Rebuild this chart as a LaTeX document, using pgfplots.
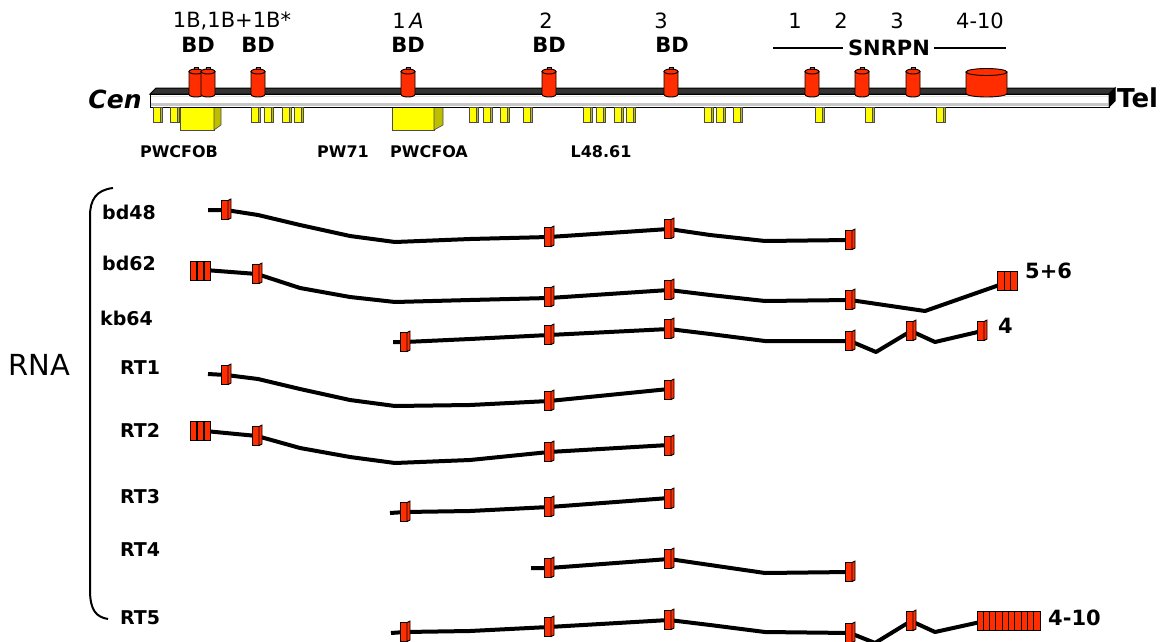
\documentclass[border=0pt]{standalone}
\usepackage{pgfplots}
\pgfplotsset{compat=1.18}
\usepackage{pgfplotstable}
\usepackage{fontspec}
\setmainfont{DejaVu Sans}
\definecolor{exred}{RGB}{255,45,0}
\definecolor{exdark}{RGB}{200,30,0}
\definecolor{yel}{RGB}{255,255,0}
\definecolor{yeldark}{RGB}{190,190,0}

% exon (front face + thin side face)
\pgfdeclareplotmark{exon}{%
  \pgfsetlinewidth{0.9pt}\pgfsetstrokecolor{black}\pgfsetfillcolor{exred}%
  \pgfpathrectangle{\pgfpoint{-5pt}{-9.5pt}}{\pgfpoint{7pt}{19pt}}\pgfusepath{fill,stroke}%
  \pgfpathmoveto{\pgfpoint{2pt}{-9.5pt}}\pgfpathlineto{\pgfpoint{5pt}{-8pt}}%
  \pgfpathlineto{\pgfpoint{5pt}{11pt}}\pgfpathlineto{\pgfpoint{2pt}{9.5pt}}\pgfpathclose
  \pgfusepath{fill,stroke}%
}
% narrow exon
\pgfdeclareplotmark{nexon}{%
  \pgfsetlinewidth{0.9pt}\pgfsetstrokecolor{black}\pgfsetfillcolor{exred}%
  \pgfpathrectangle{\pgfpoint{-3.2pt}{-9.5pt}}{\pgfpoint{6.4pt}{19pt}}\pgfusepath{fill,stroke}%
}
% cylinder on the chromosome
\pgfdeclareplotmark{cyl}{%
  \pgfsetlinewidth{0.9pt}\pgfsetstrokecolor{black}\pgfsetfillcolor{exred}%
  \pgfpathmoveto{\pgfpoint{-7pt}{11pt}}\pgfpathlineto{\pgfpoint{-7pt}{-12pt}}%
  \pgfpatharc{180}{360}{7pt and 2.5pt}\pgfpathlineto{\pgfpoint{7pt}{11pt}}\pgfpathclose
  \pgfusepath{fill,stroke}%
  \pgfpathellipse{\pgfpoint{0pt}{11pt}}{\pgfpoint{7pt}{0pt}}{\pgfpoint{0pt}{2.5pt}}\pgfusepath{fill,stroke}%
  \pgfpathrectangle{\pgfpoint{-2pt}{13pt}}{\pgfpoint{4pt}{1.8pt}}\pgfusepath{fill,stroke}%
}
\pgfdeclareplotmark{bigcyl}{%
  \pgfsetlinewidth{0.9pt}\pgfsetstrokecolor{black}\pgfsetfillcolor{exred}%
  \pgfpathmoveto{\pgfpoint{-20.5pt}{10.5pt}}\pgfpathlineto{\pgfpoint{-20.5pt}{-11pt}}%
  \pgfpatharc{180}{360}{20.5pt and 3.5pt}\pgfpathlineto{\pgfpoint{20.5pt}{10.5pt}}\pgfpathclose
  \pgfusepath{fill,stroke}%
  \pgfpathellipse{\pgfpoint{0pt}{10.5pt}}{\pgfpoint{20.5pt}{0pt}}{\pgfpoint{0pt}{3.5pt}}\pgfusepath{fill,stroke}%
}
% small yellow box
\pgfdeclareplotmark{ybox}{%
  \pgfsetlinewidth{0.6pt}\pgfsetstrokecolor{black!70}\pgfsetfillcolor{yel}%
  \pgfpathrectangle{\pgfpoint{-4.5pt}{-7.5pt}}{\pgfpoint{7pt}{15pt}}\pgfusepath{fill,stroke}%
  \pgfsetfillcolor{yeldark}%
  \pgfpathrectangle{\pgfpoint{2.5pt}{-7.5pt}}{\pgfpoint{2.2pt}{15pt}}\pgfusepath{fill,stroke}%
}

\pgfplotstableread{
x y
208 210
226 210
258 215
300 225
350 236
395 242
470 239
549 237
669 229
710 235
765 241
850 240
}\bdA
\pgfplotstableread{
x y
205 270
257 274
300 288
350 297
395 302
470 300
549 298
669 290
710 295
765 301
850 300
925 311
1005 283
}\bdB
\pgfplotstableread{
x y
393 342
405 342
470 339
549 335
669 329
710 334
765 341
850 341
876 352
911 331
935 342
982 331
}\kb
\pgfplotstableread{
x y
208 374
226 375
258 379
300 389
350 400
395 406
470 405
549 401
669 389
}\rtA
\pgfplotstableread{
x y
205 431
257 436
300 448
350 457
395 463
470 460
549 452
669 445
}\rtB
\pgfplotstableread{
x y
390 513
405 512
470 511
549 507
669 498
}\rtC
\pgfplotstableread{
x y
531 568
549 568
669 559
710 565
765 573
850 572
}\rtD
\pgfplotstableread{
x y
391 633
405 632
470 631
549 627
669 620
710 625
765 632
850 633
875 643
911 621
935 632
985 621
}\rtE
\pgfplotstableread{
x y
226 210
549 237
669 229
850 240
257 274
549 297
669 290
850 300
405 342
549 335
669 329
850 341
911 331
982 331
226 375
549 401
669 390
257 436
549 452
669 446
405 512
549 507
669 499
549 568
669 559
850 572
405 632
549 627
669 620
850 633
911 621
}\exons
\pgfplotstableread{
x y
193.5 271
200.5 271
207.5 271
193.5 431
200.5 431
207.5 431
1001 281
1007.5 281
1014 281
980.2 621
986.5 621
992.8 621
999.1 621
1005.4 621
1011.7 621
1018 621
1024.3 621
1030.6 621
1036.9 621
}\nexons
\pgfplotstableread{
x y
196 82.5
208 82.5
258 82.5
408 82.5
549 82.5
671 82.5
812 82.5
862 82.5
913 82.5
}\cyls
\pgfplotstableread{
x y
158 114.5
175 114.5
256 114.5
269 114.5
287 114.5
299 114.5
474 114.5
488 114.5
505 114.5
528 114.5
588 114.5
601 114.5
619 114.5
631 114.5
709 114.5
721 114.5
738 114.5
820 114.5
870 114.5
941 114.5
}\yboxes

\begin{document}
\begin{tikzpicture}
\begin{axis}[
  width=1167pt, height=642pt, scale only axis,
  xmin=0, xmax=1167, ymin=0, ymax=642, y dir=reverse,
  hide axis, clip=false,
]
% ---- chromosome ----
\addplot[only marks, mark=ybox] table {\yboxes};
\addplot[draw=black!70, line width=0.6pt, fill=yel] coordinates {(180,104) (214,104) (214,130) (180,130)} -- cycle;
\addplot[draw=black!70, line width=0.6pt, fill=yeldark] coordinates {(214,104) (221,104) (221,125) (214,130)} -- cycle;
\addplot[draw=black!70, line width=0.6pt, fill=yel] coordinates {(392,104) (434,104) (434,130) (392,130)} -- cycle;
\addplot[draw=black!70, line width=0.6pt, fill=yeldark] coordinates {(434,104) (443,104) (443,125) (434,130)} -- cycle;
\addplot[draw=black, line width=1pt, fill=white] coordinates {(150,94) (1109,94) (1109,107) (150,107)} -- cycle;
\addplot[black!22, line width=3pt] coordinates {(151,104) (1108,104)};
\addplot[black!10, line width=1.5pt] coordinates {(151,96.5) (1108,96.5)};
\addplot[draw=black, line width=1pt, fill=black!80] coordinates {(150,94) (156,88) (1115,88) (1109,94)} -- cycle;
\addplot[draw=black, line width=1pt, fill=black] coordinates {(1109,94) (1115,88) (1115,101) (1109,107)} -- cycle;
\addplot[only marks, mark=cyl] table {\cyls};
\addplot[only marks, mark=bigcyl] coordinates {(986.5,82.5)};
\addplot[black, line width=2.5pt] coordinates {(773,48) (843,48)};
\addplot[black, line width=2.5pt] coordinates {(934,48) (1006,48)};
% ---- transcripts ----
\addplot[black, line width=4pt, line join=round] table {\bdA};
\addplot[black, line width=4pt, line join=round] table {\bdB};
\addplot[black, line width=4pt, line join=round] table {\kb};
\addplot[black, line width=4pt, line join=round] table {\rtA};
\addplot[black, line width=4pt, line join=round] table {\rtB};
\addplot[black, line width=4pt, line join=round] table {\rtC};
\addplot[black, line width=4pt, line join=round] table {\rtD};
\addplot[black, line width=4pt, line join=round] table {\rtE};
\addplot[only marks, mark=exon] table {\exons};
\addplot[only marks, mark=nexon] table {\nexons};
% ---- bracket ----
\draw[black, line width=2pt] (axis cs:113,188) .. controls (axis cs:96,190) and (axis cs:90,200) .. (axis cs:90,216) -- (axis cs:90,590) .. controls (axis cs:90,610) and (axis cs:96,617) .. (axis cs:108,619);
% ---- text ----
\begin{scope}[every node/.style={inner sep=0pt}]
\node[font=\fontsize{21}{23}\selectfont] at (axis cs:232,21) {1B,1B+1B*};
\node[font=\fontsize{21}{23}\selectfont\bfseries] at (axis cs:198,45) {BD};
\node[font=\fontsize{21}{23}\selectfont\bfseries] at (axis cs:258,45) {BD};
\node[font=\fontsize{21}{23}\selectfont] at (axis cs:408,21) {1\,\itshape A};
\node[font=\fontsize{21}{23}\selectfont\bfseries] at (axis cs:408,45) {BD};
\node[font=\fontsize{21}{23}\selectfont] at (axis cs:546,21) {2};
\node[font=\fontsize{21}{23}\selectfont\bfseries] at (axis cs:549,45) {BD};
\node[font=\fontsize{21}{23}\selectfont] at (axis cs:661,21) {3};
\node[font=\fontsize{21}{23}\selectfont\bfseries] at (axis cs:672,45) {BD};
\node[font=\fontsize{21}{23}\selectfont] at (axis cs:795,21) {1};
\node[font=\fontsize{21}{23}\selectfont] at (axis cs:841,21) {2};
\node[font=\fontsize{21}{23}\selectfont] at (axis cs:897,21) {3};
\node[font=\fontsize{21}{23}\selectfont] at (axis cs:980,21) {4-10};
\node[font=\fontsize{21}{23}\selectfont\bfseries] at (axis cs:889,48) {SNRPN};
\node[font=\fontsize{25}{27}\selectfont\bfseries\itshape] at (axis cs:115,99) {Cen};
\node[font=\fontsize{26}{28}\selectfont\bfseries, anchor=west] at (axis cs:1117,98) {Tel};
\node[font=\fontsize{16}{18}\selectfont\bfseries] at (axis cs:179,152) {PWCFOB};
\node[font=\fontsize{16}{18}\selectfont\bfseries] at (axis cs:343,152) {PW71};
\node[font=\fontsize{16}{18}\selectfont\bfseries] at (axis cs:429,152) {PWCFOA};
\node[font=\fontsize{16}{18}\selectfont\bfseries] at (axis cs:601,152) {L48.61};
\node[font=\fontsize{29}{31}\selectfont, anchor=west] at (axis cs:8,365) {RNA};
\node[font=\fontsize{19}{21}\selectfont\bfseries, anchor=west] at (axis cs:102,212) {bd48};
\node[font=\fontsize{19}{21}\selectfont\bfseries, anchor=west] at (axis cs:102,263) {bd62};
\node[font=\fontsize{19}{21}\selectfont\bfseries, anchor=west] at (axis cs:100,318) {kb64};
\node[font=\fontsize{19}{21}\selectfont\bfseries, anchor=west] at (axis cs:120,368) {RT1};
\node[font=\fontsize{19}{21}\selectfont\bfseries, anchor=west] at (axis cs:120,430) {RT2};
\node[font=\fontsize{19}{21}\selectfont\bfseries, anchor=west] at (axis cs:120,497) {RT3};
\node[font=\fontsize{19}{21}\selectfont\bfseries, anchor=west] at (axis cs:120,550) {RT4};
\node[font=\fontsize{19}{21}\selectfont\bfseries, anchor=west] at (axis cs:120,618) {RT5};
\node[font=\fontsize{21}{23}\selectfont\bfseries, anchor=west] at (axis cs:1025,271) {5+6};
\node[font=\fontsize{21}{23}\selectfont\bfseries, anchor=west] at (axis cs:998,326) {4};
\node[font=\fontsize{21}{23}\selectfont\bfseries, anchor=west] at (axis cs:1048,618) {4-10};
\end{scope}
\end{axis}
\pgfresetboundingbox
\path (current axis.south west) rectangle (current axis.north east);
\end{tikzpicture}
\end{document}
